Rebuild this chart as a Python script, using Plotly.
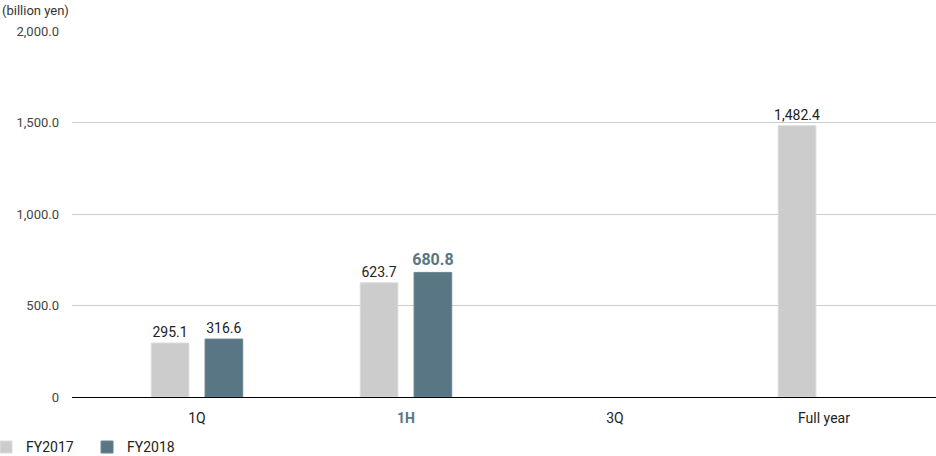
import plotly.graph_objects as go

categories = ["1Q", "1H", "3Q", "Full year"]
fy2017 = [295.1, 623.7, None, 1482.4]
fy2018 = [316.6, 680.8, None, None]
y_ticks = [0, 500, 1000, 1500, 2000]
y_ticktext = ["0", "500.0", "1,000.0", "1,500.0", "2,000.0"]

C17 = "#cccccc"
C18 = "#587683"
TXT = "#222222"
FONT = "Roboto, Arial, sans-serif"

def fmt(v):
    return "" if v is None else f"{v:,.1f}"

text17 = [fmt(v) for v in fy2017]
text18 = [fmt(v) for v in fy2018]
# highlight the latest FY2018 value
last = max(i for i, v in enumerate(fy2018) if v is not None)
text18[last] = f"<b>{text18[last]}</b>"
col18 = [C18 if i == last else TXT for i in range(len(fy2018))]
size18 = [16 if i == last else 14 for i in range(len(fy2018))]

tick_text = [f"<b><span style='color:{C18}'>{c}</span></b>" if i == last else c
             for i, c in enumerate(categories)]

fig = go.Figure()
fig.add_trace(go.Bar(
    name="FY2017", x=categories, y=fy2017, marker_color=C17,
    marker_line=dict(color="#dcdcdc", width=1),
    text=text17, textposition="outside", cliponaxis=False, constraintext="none",
    textfont=dict(color=TXT, size=14, family=FONT),
))
fig.add_trace(go.Bar(
    name="FY2018", x=categories, y=fy2018, marker_color=C18,
    marker_line=dict(color="#6a8591", width=1),
    text=text18, textposition="outside", cliponaxis=False, constraintext="none",
    textfont=dict(color=col18, size=size18, family=FONT),
))

fig.update_layout(
    width=936, height=456,
    margin=dict(l=72, r=0, t=31, b=59, autoexpand=False),
    paper_bgcolor="white", plot_bgcolor="white",
    barmode="group", bargap=0.485, bargroupgap=0.3,
    font=dict(family=FONT, size=13, color=TXT),
    showlegend=True,
    legend=dict(orientation="h", xref="paper", yref="paper",
                x=-0.0995, y=-0.094, xanchor="left", yanchor="top",
                font=dict(size=14, color=TXT), itemwidth=30, entrywidth=56,
                traceorder="normal"),
    annotations=[dict(text="(billion yen)", xref="paper", yref="paper",
                      x=-72 / 864, y=(397 - 1) / 366, xanchor="left", yanchor="top",
                      showarrow=False, font=dict(size=13, color="#333333"))],
)
fig.update_xaxes(
    range=[-0.598, 3.536], tickvals=list(range(len(categories))), ticktext=tick_text,
    showline=True, linecolor="#000000", linewidth=1, showgrid=False,
    ticks="", tickfont=dict(size=14, color=TXT), ticklabelstandoff=8,
)
fig.update_yaxes(
    range=[0, 2000], tickvals=y_ticks, ticktext=y_ticktext,
    showgrid=True, gridcolor="#cccccc", gridwidth=1,
    zeroline=True, zerolinecolor="#000000", zerolinewidth=1,
    ticks="", tickfont=dict(size=13, color="#444444"), ticklabelstandoff=12,
)

fig.write_html("out.html", config={"displayModeBar": False},
               post_script="document.body.style.margin='0';document.body.style.overflow='hidden';")
